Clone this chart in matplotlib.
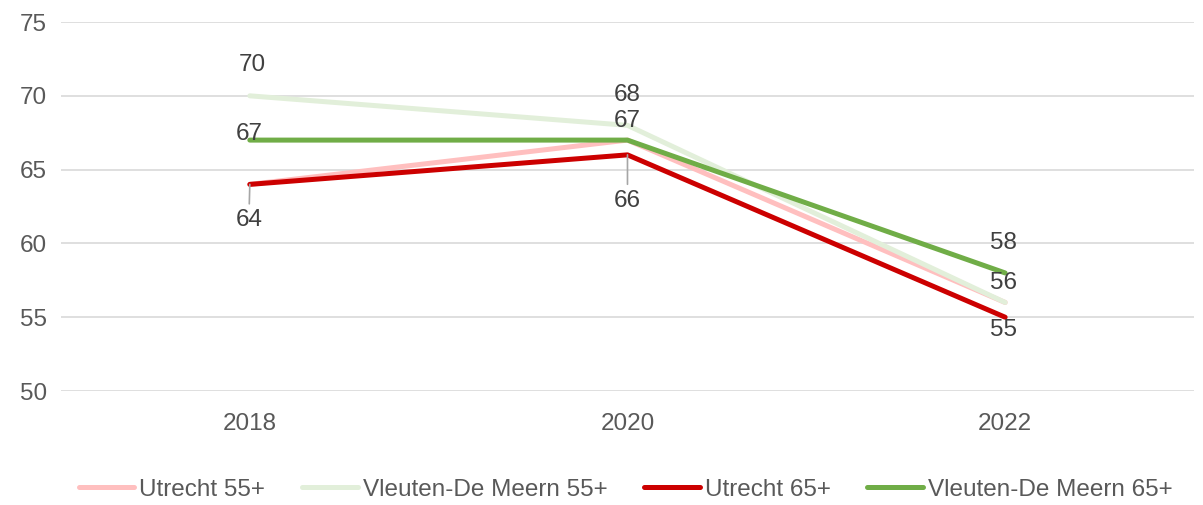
import matplotlib.pyplot as plt

plt.rcParams['font.family'] = ['Liberation Sans', 'DejaVu Sans']

years = ['2018', '2020', '2022']
utrecht_55 = [64, 67, 56]
vleuten_55 = [70, 68, 56]
utrecht_65 = [64, 66, 55]
vleuten_65 = [67, 67, 58]

names = ['Utrecht 55+', 'Vleuten-De Meern 55+', 'Utrecht 65+', 'Vleuten-De Meern 65+']
colors = ['#FFBFBF', '#E2EFDA', '#CC0000', '#70AD47']
series = [utrecht_55, vleuten_55, utrecht_65, vleuten_65]

# which labels are shown: (series index, point index, dx px, dy px, leader)
shown = [
    (1, 0, 2, 31, False), (3, 0, -1, 6, False), (2, 0, -1, -36, True),
    (1, 1, 0, 30, False), (3, 1, 0, 19, False), (2, 1, 0, -46, True),
    (3, 2, -2, 30, False), (1, 2, -2, 19, False), (2, 2, -2, -13, False),
]

fig = plt.figure(figsize=(12.03, 5.05), dpi=100)
ax = fig.add_axes([0.0507, 0.2257, 0.9418, 0.7307])

x = range(len(years))
for vals, name, c in zip(series, names, colors):
    ax.plot(x, vals, color=c, lw=3.6, label=name, solid_capstyle='round')

for si, pi, dx, dy, leader in shown:
    v = series[si][pi]
    if leader:
        ax.annotate(str(v), (pi, v), xytext=(dx, dy), textcoords='offset pixels',
                    ha='center', va='center', fontsize=17.5, color='#404040',
                    arrowprops=dict(arrowstyle='-', color='#A6A6A6', lw=1.2,
                                    shrinkA=2, shrinkB=0))
    else:
        ax.annotate(str(v), (pi, v), xytext=(dx, dy), textcoords='offset pixels',
                    ha='center', va='center', fontsize=17.5, color='#404040')

ax.set_xlim(-0.5, 2.5)
ax.set_ylim(50, 75)
ax.set_yticks(range(50, 76, 5))
ax.set_xticks(list(x))
ax.set_xticklabels(years)
ax.grid(axis='y', color='#D9D9D9', lw=1.2)
ax.set_axisbelow(True)
for s in ax.spines.values():
    s.set_visible(False)
ax.tick_params(length=0, labelsize=17.5, colors='#595959')
ax.tick_params(axis='x', pad=16)
ax.tick_params(axis='y', pad=10)

fig.legend(loc='lower center', bbox_to_anchor=(0.52, -0.035), ncol=4, frameon=False,
           fontsize=17.5, handlelength=2.3, handletextpad=0.2, columnspacing=1.5,
           labelcolor='#595959')

fig.savefig('out.png', dpi=100)
